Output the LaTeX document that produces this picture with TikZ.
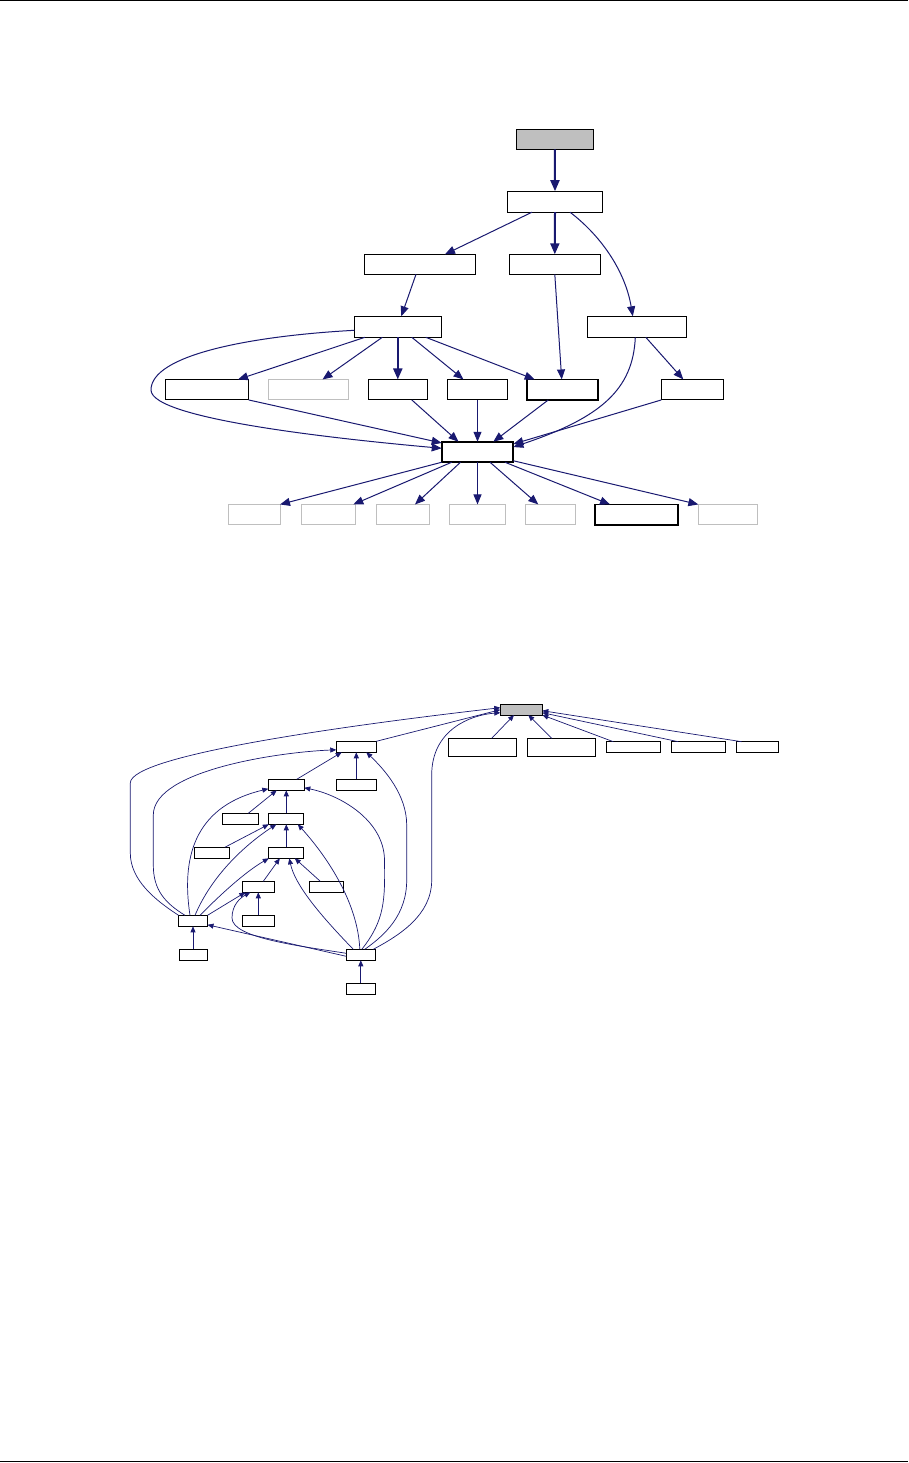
\documentclass[tikz,border=0pt]{standalone}
\usetikzlibrary{arrows.meta}
\definecolor{edgec}{HTML}{191970}
\definecolor{greyc}{HTML}{BFBFBF}
\begin{document}
\begin{tikzpicture}[x=1pt,y=-1pt,
  tb/.style={draw=black,line width=1pt,inner sep=0pt,outer sep=0pt,minimum height=20.5pt},
  tbg/.style={tb,draw=greyc},
  tbk/.style={tb,line width=1.8pt},
  sb/.style={draw=black,line width=0.9pt,inner sep=0pt,outer sep=0pt,minimum height=11pt},
  te/.style={draw=edgec,line width=1pt,-{Triangle[length=10pt,width=8pt]}},
  tek/.style={te,line width=2pt,-{Triangle[length=11pt,width=9pt]}},
  se/.style={draw=edgec,line width=0.7pt,-{Triangle[length=6pt,width=5pt]}}]
\useasboundingbox (0,0) rectangle (908,1463);
\draw[line width=1pt] (0,0.5) -- (908,0.5);
\draw[line width=1pt] (0,1461.5) -- (908,1461.5);

% ---------- top graph ----------
\node[tb,fill=greyc,minimum width=77pt,minimum height=20pt] (G0) at (554.8,139.3) {};
\node[tb,minimum width=94.6pt,minimum height=21pt] (A) at (555,201.7) {};
\node[tb,minimum width=111.4pt,minimum height=20pt] (B) at (420,264.3) {};
\node[tb,minimum width=91pt,minimum height=20pt] (C) at (554.8,264.3) {};
\node[tb,minimum width=87pt,minimum height=21pt] (D) at (397.8,326.8) {};
\node[tb,minimum width=99pt,minimum height=21pt] (E) at (636.8,326.8) {};
\node[tb,minimum width=83.4pt] (F1) at (207,389.7) {};
\node[tbg,minimum width=80.4pt] (F2) at (308.5,389.7) {};
\node[tb,minimum width=59pt] (F3) at (397.8,389.7) {};
\node[tb,minimum width=59.6pt] (F4) at (477.5,389.7) {};
\node[tbk,minimum width=70.7pt] (F5) at (562.7,389.7) {};
\node[tb,minimum width=62pt] (F6) at (692.3,389.7) {};
\node[tbk,minimum width=71.6pt] (H) at (477.5,452) {};
\node[tbg,minimum width=52pt] (L1) at (254.3,514.7) {};
\node[tbg,minimum width=54pt] (L2) at (328.3,514.7) {};
\node[tbg,minimum width=53pt] (L3) at (402.8,514.7) {};
\node[tbg,minimum width=56pt] (L4) at (477.5,514.7) {};
\node[tbg,minimum width=50pt] (L5) at (550.3,514.7) {};
\node[tbk,minimum width=83pt] (L6) at (636.8,514.7) {};
\node[tbg,minimum width=58.7pt] (L7) at (727.7,514.7) {};

\draw[tek] (G0.south) -- (A.north);
\draw[te] ([xshift=-23pt]A.south) -- ([xshift=25pt]B.north);
\draw[tek] (A.south) -- (C.north);
\draw[te] ([xshift=15pt]A.south) .. controls (600,235) and (625,270) .. ([xshift=-4pt]E.north);
\draw[te] ([xshift=-4pt]B.south) -- ([xshift=3.5pt]D.north);
\draw[te] (C.south) -- ([xshift=-1pt]F5.north);
\draw[te] ([xshift=9pt]E.south) -- ([xshift=-9pt]F6.north);
\draw[te] ([xshift=-1.5pt]E.south) .. controls (633,390) and (600,418) .. ([yshift=-5.3pt]H.north east);
\draw[te] (F6.south west) -- ([yshift=-2.3pt]H.north east);
\draw[te] ([xshift=-33pt]D.south) -- ([xshift=31pt]F1.north);
\draw[te] ([xshift=-15.5pt]D.south) -- ([xshift=14pt]F2.north);
\draw[tek] (D.south) -- (F3.north);
\draw[te] ([xshift=14pt]D.south) -- ([xshift=-14pt]F4.north);
\draw[te] ([xshift=28pt]D.south) -- ([xshift=-28pt]F5.north);
\draw[te] ([yshift=-3.5pt]D.west) .. controls (250,336) and (151,355) .. (151,390)
   .. controls (151,420) and (350,440) .. ([yshift=3.7pt]H.west);
\draw[te] (F1.south east) -- ([yshift=9pt]H.west);
\draw[te] ([xshift=14pt]F3.south) -- ([xshift=-19pt]H.north);
\draw[te] (F4.south) -- (H.north);
\draw[te] ([xshift=-14.4pt]F5.south) -- ([xshift=15.8pt]H.north);
\draw[te] (H.south west) -- ([xshift=25.7pt]L1.north);
\draw[te] ([xshift=-25.8pt]H.south) -- ([xshift=25pt]L2.north);
\draw[te] ([xshift=-17pt]H.south) -- ([xshift=12.2pt]L3.north);
\draw[te] (H.south) -- (L4.north);
\draw[te] ([xshift=12.5pt]H.south) -- ([xshift=-12pt]L5.north);
\draw[te] ([xshift=27.5pt]H.south) -- ([xshift=-26.8pt]L6.north);
\draw[te] ([yshift=1.5pt]H.south east) -- (L7.north west);

% ---------- bottom graph ----------
\node[sb,fill=greyc,minimum width=42pt,minimum height=10.7pt] (R) at (521.3,709.7) {};
\node[sb,minimum width=68pt,minimum height=18pt] (S1) at (482.3,747.3) {};
\node[sb,minimum width=68pt,minimum height=18pt] (S2) at (561.3,747.3) {};
\node[sb,minimum width=54pt,minimum height=10.6pt] (S3) at (633.3,747) {};
\node[sb,minimum width=54pt,minimum height=10.6pt] (S4) at (698.3,747) {};
\node[sb,minimum width=42pt,minimum height=10.6pt] (S5) at (757.3,747) {};
\node[sb,minimum width=40pt] (N1) at (356.3,746.8) {};
\node[sb,minimum width=40pt] (N2) at (356.3,784.8) {};
\node[sb,minimum width=36pt] (N3) at (286.3,784.8) {};
\node[sb,minimum width=36pt] (N4) at (240.3,818.8) {};
\node[sb,minimum width=35pt] (N5) at (286.3,818.8) {};
\node[sb,minimum width=35pt] (N6) at (211.8,852.8) {};
\node[sb,minimum width=35pt] (N7) at (286.3,852.8) {};
\node[sb,minimum width=32pt] (N8) at (258.3,886.8) {};
\node[sb,minimum width=34pt] (N9) at (326.3,886.8) {};
\node[sb,minimum width=32pt] (N10) at (258.3,920.8) {};
\node[sb,minimum width=29pt] (P) at (193,920.8) {};
\node[sb,minimum width=28pt] (P2) at (193,954.8) {};
\node[sb,minimum width=29pt] (Q) at (360.8,954.8) {};
\node[sb,minimum width=29pt] (Q2) at (360.8,988.7) {};

\draw[se] ([xshift=9.4pt]S1.north) -- ([xshift=-7.3pt]R.south);
\draw[se] ([xshift=-9.6pt]S2.north) -- ([xshift=7pt]R.south);
\draw[se] ([xshift=-20pt]S3.north) -- (R.south east);
\draw[se] ([xshift=-20pt]S4.north) -- ([yshift=-3pt]R.east);
\draw[se] ([xshift=-15.6pt]S5.north) -- ([yshift=-1pt]R.east);
\draw[se] (N1.north east) -- (R.west);
\draw[se] (P.north west) .. controls (155,900) and (130.3,880) .. (130.3,853) -- (130.3,783)
   .. controls (130.3,755) and (350,725) .. ([yshift=2pt]R.west);
\draw[se] ([xshift=12.5pt]Q.north) .. controls (400,935) and (431.7,915) .. (431.7,880) -- (431.7,775)
   .. controls (431.7,730) and (470,715) .. ([yshift=-3pt]R.west);
\draw[se] ([xshift=-8pt]P.north) .. controls (165,903) and (153.3,890) .. (153.3,865) -- (153.3,815)
   .. controls (153.3,770) and (280,752) .. ([yshift=-3pt]N1.west);
\draw[se] ([xshift=-3pt]P.north) .. controls (180,850) and (200,805) .. ([yshift=-4pt]N3.west);
\draw[se] ([xshift=2pt]P.north) .. controls (212,875) and (245,845) .. ([xshift=-10pt]N5.south);
\draw[se] ([xshift=7pt]P.north) .. controls (220,895) and (245,872) .. (N7.south west);
\draw[se] (P.north east) -- ([xshift=-13pt]N8.south);
\draw[se] ([yshift=-1.5pt]Q.west) -- ([yshift=-4pt]P.east);
\draw[se] ([yshift=1.5pt]Q.west) .. controls (300,946) and (232,938) .. (232,918)
   .. controls (232,905) and (240,898) .. ([xshift=-8pt]N8.south);
\draw[se] ([xshift=-7.5pt]Q.north) .. controls (320,915) and (295,885) .. ([xshift=3pt]N7.south);
\draw[se] ([xshift=-1pt]Q.north) .. controls (358,905) and (330,860) .. ([xshift=11.5pt]N5.south);
\draw[se] ([xshift=1pt]Q.north) .. controls (385,920) and (385,900) .. (384.5,860)
   .. controls (384,820) and (340,795) .. ([yshift=-3pt]N3.east);
\draw[se] ([xshift=4pt]Q.north) .. controls (385,935) and (406.7,915) .. (406.7,880) -- (406.7,825)
   .. controls (406.7,795) and (385,770) .. ([xshift=10pt]N1.south);
\draw[se] ([xshift=10.4pt]N3.north) -- ([xshift=-14.6pt]N1.south);
\draw[se] (N2.north) -- (N1.south);
\draw[se] ([xshift=8pt]N4.north) -- ([xshift=-9.6pt]N3.south);
\draw[se] (N5.north) -- (N3.south);
\draw[se] ([xshift=13pt]N6.north) -- (N5.south west);
\draw[se] (N7.north) -- (N5.south);
\draw[se] ([xshift=5pt]N8.north) -- ([xshift=-6.5pt]N7.south);
\draw[se] ([xshift=-6pt]N9.north) -- ([xshift=8.5pt]N7.south);
\draw[se] (N10.north) -- (N8.south);
\draw[se] (P2.north) -- (P.south);
\draw[se] (Q2.north) -- (Q.south);
\end{tikzpicture}
\end{document}
